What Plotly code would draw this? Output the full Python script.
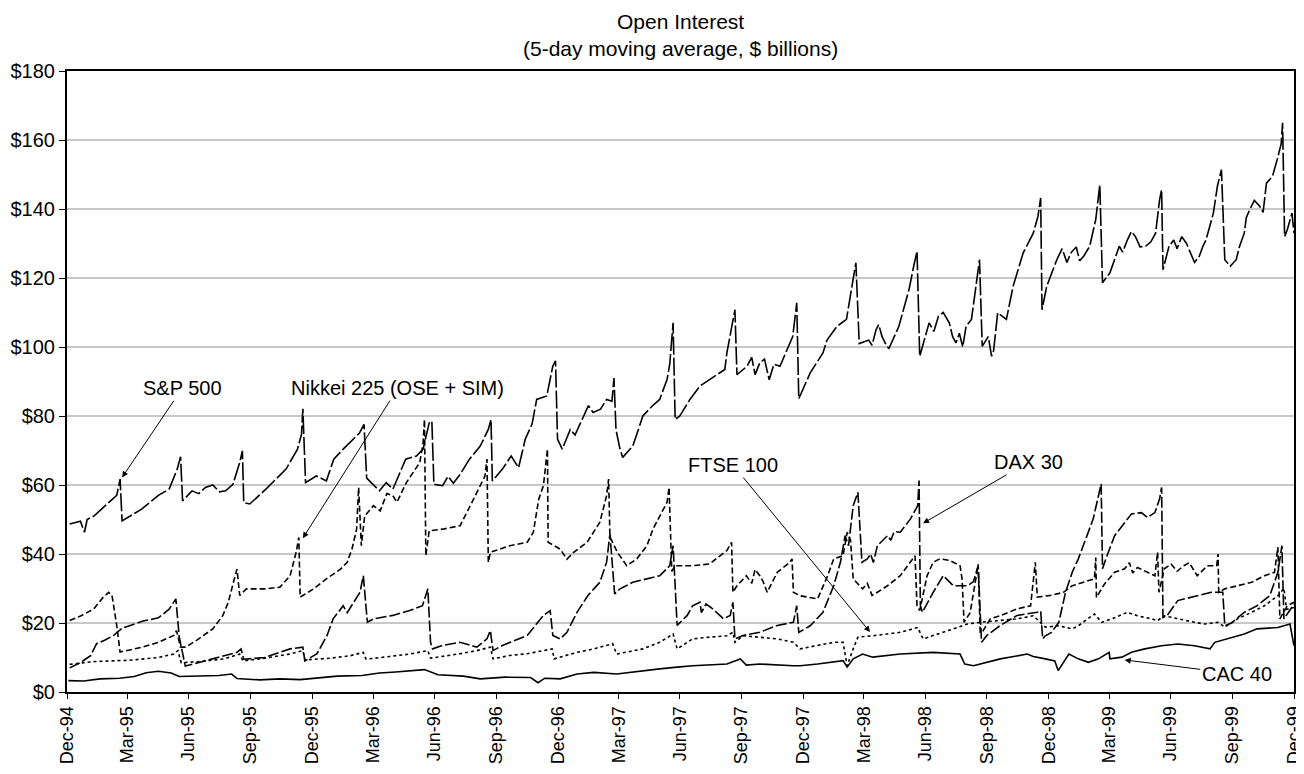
import plotly.graph_objects as go

# ---------------- data (5-day moving average, $ billions) ----------------
sp_dates = ["1995-01-04","1995-01-20","1995-01-26","1995-01-30","1995-02-09","1995-03-03","1995-03-15","1995-03-20","1995-03-23",
"1995-04-21","1995-05-16","1995-06-01","1995-06-13","1995-06-18","1995-06-21","1995-07-05","1995-07-25","1995-08-24","1995-09-04",
"1995-09-14","1995-09-18","1995-09-20","1995-09-29","1995-10-23","1995-11-22","1995-12-09","1995-12-15","1995-12-17","1995-12-21",
"1996-01-06","1996-01-21","1996-02-01","1996-02-15","1996-03-01","1996-03-10","1996-03-17","1996-03-21","1996-04-09","1996-04-19",
"1996-04-29","1996-05-18","1996-06-03","1996-06-13","1996-06-22","1996-06-26","1996-06-29","1996-07-12","1996-08-07","1996-08-21",
"1996-09-06","1996-09-18","1996-09-22","1996-09-24","1996-10-09","1996-10-22","1996-11-02","1996-11-12","1996-11-22","1996-11-29",
"1996-12-14","1996-12-23","1996-12-27","1996-12-30","1997-01-06","1997-01-18","1997-02-07","1997-02-21","1997-03-13","1997-03-21",
"1997-03-24","1997-03-27","1997-04-02","1997-04-06","1997-04-21","1997-05-06","1997-05-20","1997-05-31","1997-06-11","1997-06-15",
"1997-06-20","1997-06-23","1997-06-30","1997-07-15","1997-07-30","1997-08-17","1997-09-05","1997-09-08","1997-09-20","1997-09-23",
"1997-10-08","1997-10-27","1997-11-26","1997-12-06","1997-12-15","1997-12-21","1997-12-24","1998-01-10","1998-01-29","1998-02-04",
"1998-02-19","1998-03-05","1998-03-12","1998-03-19","1998-03-24","1998-04-07","1998-04-18","1998-04-27","1998-05-07","1998-05-22",
"1998-06-06","1998-06-13","1998-06-18","1998-06-22","1998-07-06","1998-07-20","1998-08-05","1998-08-15","1998-08-30","1998-09-07",
"1998-09-19","1998-09-23","1998-10-07","1998-10-16","1998-10-29","1998-11-08","1998-11-23","1998-12-08","1998-12-15","1998-12-19",
"1998-12-21","1998-12-28","1999-01-12","1999-02-02","1999-02-21","1999-03-02","1999-03-11","1999-03-17","1999-03-21","1999-04-01",
"1999-04-15","1999-04-27","1999-05-09","1999-05-24","1999-06-08","1999-06-14","1999-06-17","1999-06-19","1999-06-28","1999-07-17",
"1999-07-30","1999-08-12","1999-08-22","1999-09-02","1999-09-08","1999-09-14","1999-09-19","1999-09-27","1999-10-06","1999-10-11",
"1999-10-26","1999-11-10","1999-11-20","1999-11-29","1999-12-06","1999-12-12","1999-12-14","1999-12-17","1999-12-21","1999-12-28",
"1999-12-31",
# extra wiggles read from the flatter stretches
"1995-07-15","1995-08-05","1995-08-15","1996-07-20","1996-07-28","1997-01-25","1997-02-14","1997-03-04",
"1997-10-15","1997-10-20","1997-11-03","1997-11-10","1997-11-17","1998-04-12","1998-04-22","1998-05-02",
"1998-07-13","1998-07-27","1998-08-10","1998-08-20","1998-08-25","1998-10-02","1998-10-10",
"1999-01-20","1999-01-27","1999-02-10","1999-02-15","1999-04-20","1999-05-03","1999-05-16","1999-06-01",
"1999-07-05","1999-07-10","1999-07-24","1999-08-05","1999-08-17","1999-10-18","1999-10-21","1999-11-02","1999-11-15"]
sp_vals = [48.7,49.5,46.3,50.0,51.0,55.0,57.0,61.7,49.6,
53.0,57.0,58.8,64.6,68.2,55.4,58.3,59.3,58.3,60.2,
66.5,69.9,54.9,54.5,58.8,64.6,70.4,74.7,82.1,60.7,
62.6,61.2,67.5,70.4,73.3,75.0,77.6,62.0,58.3,60.7,
58.8,67.5,68.4,70.4,78.0,78.5,60.2,59.8,63.1,67.5,
71.3,76.1,79.0,61.2,64.6,68.4,65.0,73.3,77.6,84.8,
85.8,94.5,96.0,73.3,70.4,76.1,80.0,81.0,84.8,84.3,
91.0,76.0,70.4,68.0,71.3,80.0,82.9,84.8,90.6,95.0,
107.0,79.0,80.0,84.8,88.7,91.0,93.5,98.3,110.8,92.0,
94.4,95.4,94.4,99.0,103.0,112.8,85.0,92.5,98.3,102.0,
106.0,108.0,115.6,124.4,101.0,102.0,105.0,103.0,99.5,106.0,
116.6,123.4,127.7,97.3,107.0,109.0,107.0,101.2,106.0,108.0,
125.3,100.2,97.3,109.9,108.0,117.6,127.3,133.0,137.9,143.2,
110.8,117.6,125.3,127.3,126.3,129.2,137.0,147.0,118.6,121.5,
129.2,131.0,132.0,129.2,133.0,142.7,145.6,122.4,129.2,132.0,
127.3,126.3,131.0,138.8,146.6,151.4,125.3,123.4,125.3,129.2,
139.8,140.8,147.5,149.5,154.3,159.0,165.0,132.0,134.0,138.8,
133.0,
57.5,60.0,58.0,62.5,60.5,74.5,83.0,82.0,
97.0,92.0,96.5,90.5,95.0,100.5,106.5,101.0,
104.5,110.0,103.0,104.0,100.0,103.0,99.0,
128.5,124.5,129.0,125.0,127.5,133.5,129.0,130.5,
131.0,128.5,130.0,124.5,129.0,133.0,137.5,142.5,139.0]

nk_dates = ["1995-01-04","1995-01-20","1995-02-09","1995-02-23","1995-03-03","1995-03-08","1995-03-15","1995-03-20","1995-04-22",
"1995-05-16","1995-06-08","1995-06-12","1995-06-18","1995-06-26","1995-07-15","1995-08-05","1995-08-20","1995-08-28","1995-09-04",
"1995-09-10","1995-09-14","1995-09-24","1995-10-23","1995-11-13","1995-11-28","1995-12-07","1995-12-11","1995-12-13","1996-01-02",
"1996-01-21","1996-02-11","1996-02-21","1996-02-28","1996-03-06","1996-03-09","1996-03-13","1996-03-18","1996-03-31","1996-04-29",
"1996-05-19","1996-06-08","1996-06-13","1996-06-15","1996-06-17","1996-06-22","1996-07-12","1996-08-07","1996-08-27","1996-09-13",
"1996-09-16","1996-09-18","1996-09-21","1996-10-05","1996-10-20","1996-11-15","1996-11-24","1996-12-02","1996-12-09","1996-12-15",
"1996-12-16","1997-01-03","1997-01-13","1997-01-23","1997-02-12","1997-03-03","1997-03-13","1997-03-16","1997-03-18","1997-03-29",
"1997-04-12","1997-04-27","1997-05-12","1997-05-21","1997-05-31","1997-06-11","1997-06-14","1997-06-18","1997-06-23","1997-07-19",
"1997-08-13","1997-09-08","1997-09-15","1997-09-17","1997-09-23","1997-10-07","1997-10-27","1997-11-07","1997-11-22","1997-12-11",
"1997-12-14","1997-12-16","1997-12-26","1998-01-21","1998-02-05","1998-02-14","1998-02-28","1998-03-06","1998-03-11","1998-03-15",
"1998-03-29","1998-04-20","1998-05-05","1998-05-24","1998-06-08","1998-06-15","1998-06-18","1998-06-22","1998-07-03","1998-07-12",
"1998-07-22","1998-08-06","1998-08-21","1998-08-24","1998-08-27","1998-09-05","1998-09-12","1998-09-17","1998-09-20","1998-09-23",
"1998-10-05","1998-10-20","1998-11-14","1998-12-04","1998-12-11","1998-12-14","1999-01-03","1999-01-22","1999-02-04","1999-02-19",
"1999-03-09","1999-03-11","1999-03-12","1999-03-24","1999-04-08","1999-04-23","1999-05-12","1999-05-27","1999-06-07","1999-06-11",
"1999-06-13","1999-06-21","1999-07-01","1999-07-20","1999-08-09","1999-08-24","1999-09-07","1999-09-09","1999-09-10","1999-09-19",
"1999-10-08","1999-10-29","1999-11-17","1999-12-02","1999-12-07","1999-12-10","1999-12-21","1999-12-31",
"1996-04-10","1996-04-20","1996-05-05","1997-10-15","1997-10-20","1997-11-01","1998-04-05","1998-04-12",
"1999-04-30","1999-05-05","1999-07-10","1999-07-28"]
nk_vals = [20.7,22.0,24.1,27.5,28.9,28.0,19.3,11.6,13.0,
14.4,16.4,17.8,13.0,13.0,15.4,18.3,22.2,26.0,31.3,
35.6,28.0,29.9,29.9,30.4,33.7,40.5,44.8,27.5,29.9,
32.8,35.6,37.6,41.4,47.2,59.3,42.4,51.0,54.0,56.9,
60.7,66.5,72.3,79.0,39.5,46.7,47.2,48.2,55.9,62.6,
67.5,37.6,40.5,41.4,42.4,43.4,46.3,55.9,59.8,70.4,
43.4,41.4,38.5,40.5,43.4,49.2,56.9,61.7,45.0,40.5,
36.6,38.6,42.4,47.2,51.0,55.0,59.3,35.0,36.6,36.6,
37.1,41.0,43.4,28.9,30.8,33.7,33.7,28.9,34.7,37.6,
38.6,28.9,27.9,27.0,33.7,38.6,39.5,46.3,44.0,32.8,
29.9,28.9,30.8,33.7,37.6,39.5,25.0,23.6,33.7,37.6,
38.6,38.1,36.6,32.8,20.2,23.0,31.0,37.0,17.3,17.3,
21.2,22.1,24.1,25.0,37.6,27.5,28.0,28.9,30.8,31.8,
32.8,39.0,27.4,31.3,34.7,35.7,36.1,34.7,33.7,40.5,
28.9,35.7,37.1,36.6,33.7,36.6,36.6,40.0,28.9,29.9,
30.8,31.8,33.7,34.7,42.0,21.2,25.0,26.0,
52.5,57.5,55.0,31.5,35.5,32.0,31.5,28.0,
37.5,34.5,35.0,37.5]

dax_dates = ["1995-01-04","1995-01-20","1995-02-04","1995-02-13","1995-02-25","1995-03-11","1995-03-23","1995-04-22","1995-05-16",
"1995-06-01","1995-06-11","1995-06-16","1995-06-25","1995-07-15","1995-08-22","1995-09-10","1995-09-16","1995-09-20","1995-10-21",
"1995-11-28","1995-12-17","1995-12-20","1996-01-07","1996-01-16","1996-01-22","1996-01-31","1996-02-15","1996-02-21","1996-03-01",
"1996-03-11","1996-03-16","1996-03-22","1996-03-31","1996-04-29","1996-05-24","1996-06-12","1996-06-20","1996-06-24","1996-06-27",
"1996-07-12","1996-08-07","1996-09-01","1996-09-16","1996-09-21","1996-09-25","1996-10-09","1996-11-15","1996-12-09","1996-12-19",
"1996-12-23","1997-01-03","1997-01-13","1997-01-28","1997-02-13","1997-02-22","1997-03-03","1997-03-13","1997-03-18","1997-03-25",
"1997-04-02","1997-04-21","1997-05-12","1997-05-31","1997-06-15","1997-06-20","1997-06-26","1997-07-11","1997-07-19","1997-07-30",
"1997-08-18","1997-09-03","1997-09-13","1997-09-17","1997-09-20","1997-10-02","1997-10-27","1997-11-22","1997-12-16","1997-12-21",
"1997-12-24","1998-01-10","1998-01-29","1998-02-14","1998-02-24","1998-03-03","1998-03-08","1998-03-15","1998-03-22","1998-03-28",
"1998-04-05","1998-04-20","1998-05-05","1998-05-24","1998-06-08","1998-06-19","1998-06-21","1998-06-23","1998-06-26","1998-07-12",
"1998-07-27","1998-08-11","1998-09-01","1998-09-10","1998-09-17","1998-09-22","1998-09-30","1998-10-20","1998-11-14","1998-12-14",
"1998-12-19","1998-12-22","1998-12-26","1999-01-04","1999-01-15","1999-01-25","1999-02-04","1999-02-13","1999-02-24","1999-03-07",
"1999-03-14","1999-03-19","1999-03-21","1999-03-26","1999-04-08","1999-04-23","1999-05-03","1999-05-18","1999-05-27","1999-06-07",
"1999-06-14","1999-06-17","1999-06-19","1999-06-25","1999-07-11","1999-08-09","1999-08-30","1999-09-16","1999-09-19","1999-09-29",
"1999-10-18","1999-11-06","1999-11-25","1999-12-07","1999-12-13","1999-12-16","1999-12-31",
"1997-08-01","1997-08-08","1998-04-10","1998-04-14","1998-05-10","1998-05-15"]
dax_vals = [7.0,8.5,10.5,14.0,15.0,16.5,18.5,20.5,21.5,
24.0,27.0,16.0,7.5,8.5,10.5,11.5,12.5,9.5,10.0,
12.5,13.0,9.0,11.1,14.4,16.4,21.2,25.0,23.0,26.0,
28.9,33.7,20.2,21.2,22.2,23.6,25.0,29.9,14.4,12.5,
13.5,14.4,13.0,15.4,17.8,12.0,13.5,16.4,22.2,23.6,
16.4,15.4,17.3,23.1,27.9,29.9,31.8,37.6,45.8,28.4,
29.9,31.8,32.8,33.7,36.6,42.4,19.3,22.2,25.0,26.0,
24.1,21.2,22.2,26.0,15.4,16.4,17.3,19.3,20.2,25.0,
17.3,19.2,23.1,30.8,37.6,45.3,42.4,54.0,57.9,37.6,
38.6,42.4,45.3,46.3,50.1,54.0,61.3,25.0,23.1,28.9,
33.7,30.8,30.8,32.0,36.6,14.4,16.4,19.3,22.2,23.1,
23.5,15.4,16.3,17.3,20.2,28.9,34.7,38.6,44.3,50.1,
56.0,60.3,35.7,38.6,45.3,49.2,51.6,52.0,50.6,52.0,
56.0,59.3,21.6,22.1,26.5,27.9,28.9,28.9,19.2,20.0,
23.1,25.0,27.9,34.7,42.4,21.2,25.5,
23.0,25.5,40.0,37.5,44.0,46.5]

ftse_dates = ["1995-01-04","1995-02-08","1995-03-03","1995-04-03","1995-05-16","1995-06-08","1995-06-14","1995-06-19","1995-07-15",
"1995-08-22","1995-09-14","1995-09-19","1995-10-21","1995-11-28","1995-12-17","1995-12-20","1996-01-27","1996-02-25","1996-03-16",
"1996-03-20","1996-04-24","1996-05-24","1996-06-20","1996-06-24","1996-08-07","1996-09-01","1996-09-21","1996-09-25","1996-10-20",
"1996-11-15","1996-12-09","1996-12-22","1996-12-25","1997-01-28","1997-02-22","1997-03-22","1997-03-28","1997-05-06","1997-05-31",
"1997-06-20","1997-06-26","1997-07-19","1997-08-13","1997-09-08","1997-09-17","1997-09-20","1997-10-02","1997-10-27","1997-11-22",
"1997-12-16","1997-12-26","1998-01-21","1998-02-14","1998-02-28","1998-03-06","1998-03-15","1998-03-22","1998-04-13","1998-05-24",
"1998-06-19","1998-06-27","1998-08-11","1998-09-01","1998-09-20","1998-10-20","1998-11-14","1998-12-08","1998-12-19","1998-12-26",
"1999-01-15","1999-02-04","1999-02-13","1999-02-28","1999-03-09","1999-03-20","1999-04-04","1999-04-27","1999-05-12","1999-06-02",
"1999-06-11","1999-06-21","1999-07-11","1999-08-05","1999-08-20","1999-09-09","1999-09-19","1999-10-08","1999-10-29","1999-11-17",
"1999-12-07","1999-12-16","1999-12-20","1999-12-31"]
ftse_vals = [8.0,8.8,9.0,9.2,10.0,11.0,12.0,8.5,8.8,
9.6,11.0,9.0,9.8,11.0,12.0,9.3,9.8,10.5,11.5,
9.5,10.3,11.0,12.0,9.8,11.1,12.0,13.0,9.6,10.6,
11.1,12.0,12.5,9.6,11.5,12.5,14.0,11.0,12.5,14.4,
16.8,12.5,15.4,15.9,16.3,17.3,14.4,16.3,15.9,15.4,
14.4,12.5,13.5,14.4,14.4,7.6,12.5,15.9,16.3,17.3,
18.7,15.4,18.3,19.7,20.2,20.7,21.2,22.1,20.2,18.8,
19.2,18.3,19.2,21.2,22.6,20.2,21.2,23.1,22.1,21.2,
20.7,22.1,21.2,20.2,19.7,20.2,18.8,21.2,23.1,25.0,
27.9,30.0,24.0,24.5]

cac_dates = ["1995-01-02","1995-01-25","1995-02-18","1995-03-19","1995-04-10","1995-04-28","1995-05-16","1995-06-04","1995-06-16",
"1995-07-08","1995-08-14","1995-09-02","1995-09-10","1995-10-14","1995-11-13","1995-12-13","1996-01-06","1996-02-06","1996-03-14",
"1996-04-09","1996-05-03","1996-05-24","1996-06-15","1996-07-05","1996-08-12","1996-09-06","1996-10-13","1996-11-20","1996-12-01",
"1996-12-11","1997-01-03","1997-01-28","1997-02-22","1997-03-28","1997-05-06","1997-05-31","1997-06-26","1997-07-19","1997-09-08",
"1997-09-28","1997-10-07","1997-10-27","1997-12-16","1997-12-26","1998-01-21","1998-02-14","1998-02-28","1998-03-06","1998-03-15",
"1998-03-29","1998-04-13","1998-05-24","1998-07-12","1998-08-21","1998-08-28","1998-09-10","1998-09-30","1998-10-20","1998-11-29",
"1998-12-08","1998-12-26","1999-01-09","1999-01-14","1999-01-25","1999-01-30","1999-02-13","1999-02-28","1999-03-15","1999-03-31",
"1999-04-01","1999-04-19","1999-05-03","1999-05-23","1999-06-17","1999-07-11","1999-08-05","1999-08-28","1999-09-04","1999-09-23",
"1999-10-18","1999-11-06","1999-12-07","1999-12-25","1999-12-31"]
cac_vals = [3.3,3.2,3.8,4.0,4.5,5.6,6.0,5.5,4.5,
4.6,4.8,5.2,3.9,3.5,3.8,3.6,4.0,4.6,4.8,
5.5,5.8,6.2,6.5,5.0,4.6,3.8,4.3,4.2,2.7,
4.0,3.8,5.2,5.7,5.2,6.2,6.7,7.2,7.6,8.1,
9.6,7.8,8.1,7.6,7.6,8.1,8.6,9.1,7.2,9.6,
11.0,10.1,11.0,11.5,11.0,8.1,7.6,8.6,9.6,11.0,
10.3,9.6,9.0,6.2,9.6,11.0,9.6,8.6,9.6,11.5,
9.6,10.1,11.5,12.5,13.4,13.9,13.4,12.5,14.4,15.4,
16.8,18.3,18.7,19.7,13.4]

tick_vals = ["1994-12-31","1995-03-31","1995-06-30","1995-09-30","1995-12-31","1996-03-31","1996-06-30","1996-09-30",
             "1996-12-31","1997-03-31","1997-06-30","1997-09-30","1997-12-31","1998-03-31","1998-06-30","1998-09-30",
             "1998-12-31","1999-03-31","1999-06-30","1999-09-30","1999-12-31"]
tick_text = ["Dec-94","Mar-95","Jun-95","Sep-95","Dec-95","Mar-96","Jun-96","Sep-96","Dec-96","Mar-97","Jun-97",
             "Sep-97","Dec-97","Mar-98","Jun-98","Sep-98","Dec-98","Mar-99","Jun-99","Sep-99","Dec-99"]
y_tick_vals = [0, 20, 40, 60, 80, 100, 120, 140, 160, 180]
y_tick_text = ["$0", "$20", "$40", "$60", "$80", "$100", "$120", "$140", "$160", "$180"]

FONT = "Liberation Sans, Arial, Helvetica, sans-serif"


def ordered(dates, vals):
    pairs = sorted(zip(dates, vals))
    return [p[0] for p in pairs], [p[1] for p in pairs]


fig = go.Figure()
series = [
    ("S&P 500", sp_dates, sp_vals, "18px,3px"),
    ("Nikkei 225 (OSE + SIM)", nk_dates, nk_vals, "6px,3px"),
    ("DAX 30", dax_dates, dax_vals, "11px,3px"),
    ("FTSE 100", ftse_dates, ftse_vals, "3px,3px"),
    ("CAC 40", cac_dates, cac_vals, "solid"),
]
for name, d, v, dash in series:
    xd, yv = ordered(d, v)
    fig.add_trace(go.Scatter(x=xd, y=yv, mode="lines", name=name,
                             line=dict(color="black", width=1.6, dash=dash),
                             hoverinfo="x+y+name"))

# labels with arrows: (text, tip date, tip value, ax, ay)
labels = [
    ("S&P 500", "1995-03-23", 62.2, 60, -89),
    ("Nikkei 225 (OSE + SIM)", "1995-12-17", 44.6, 95, -150),
    ("FTSE 100", "1998-04-09", 17.4, -137, -167),
    ("DAX 30", "1998-06-27", 48.9, 105, -61),
    ("CAC 40", "1999-04-23", 9.3, 112, 14),
]
for txt, xd, yv, ax, ay in labels:
    fig.add_annotation(x=xd, y=yv, text=txt, showarrow=True, ax=ax, ay=ay,
                       arrowhead=2, arrowsize=1.2, arrowwidth=1, arrowcolor="black",
                       font=dict(family=FONT, size=20, color="black"))

# two-line title as one text block
fig.add_annotation(xref="paper", yref="paper", x=0.5, y=1, yanchor="middle", yshift=36,
                   text="Open Interest<br>(5-day moving average, $ billions)", showarrow=False,
                   font=dict(family=FONT, size=21, color="black"))

fig.update_layout(
    width=1296, height=758,
    margin=dict(l=59, r=10, t=63, b=74, autoexpand=False),
    paper_bgcolor="white", plot_bgcolor="white",
    showlegend=False,
    font=dict(family=FONT, size=20, color="black"),
    xaxis=dict(type="date", range=["1994-12-31", "1999-12-31"], tickvals=tick_vals, ticktext=tick_text,
               tickangle=-90, ticks="outside", ticklen=5, tickcolor="black", showgrid=False,
               showline=True, linecolor="black", linewidth=2, mirror=True, automargin=False,
               ticklabeloverflow="allow",
               tickfont=dict(family=FONT, size=18)),
    yaxis=dict(range=[0, 180], tickvals=y_tick_vals, ticktext=y_tick_text,
               ticks="outside", ticklen=6, tickcolor="black",
               showgrid=True, gridcolor="#c8c8c8", gridwidth=1.5, zeroline=False,
               showline=True, linecolor="black", linewidth=2, mirror=True, automargin=False,
               tickfont=dict(family=FONT, size=20)),
)

fig.write_html("out.html")
